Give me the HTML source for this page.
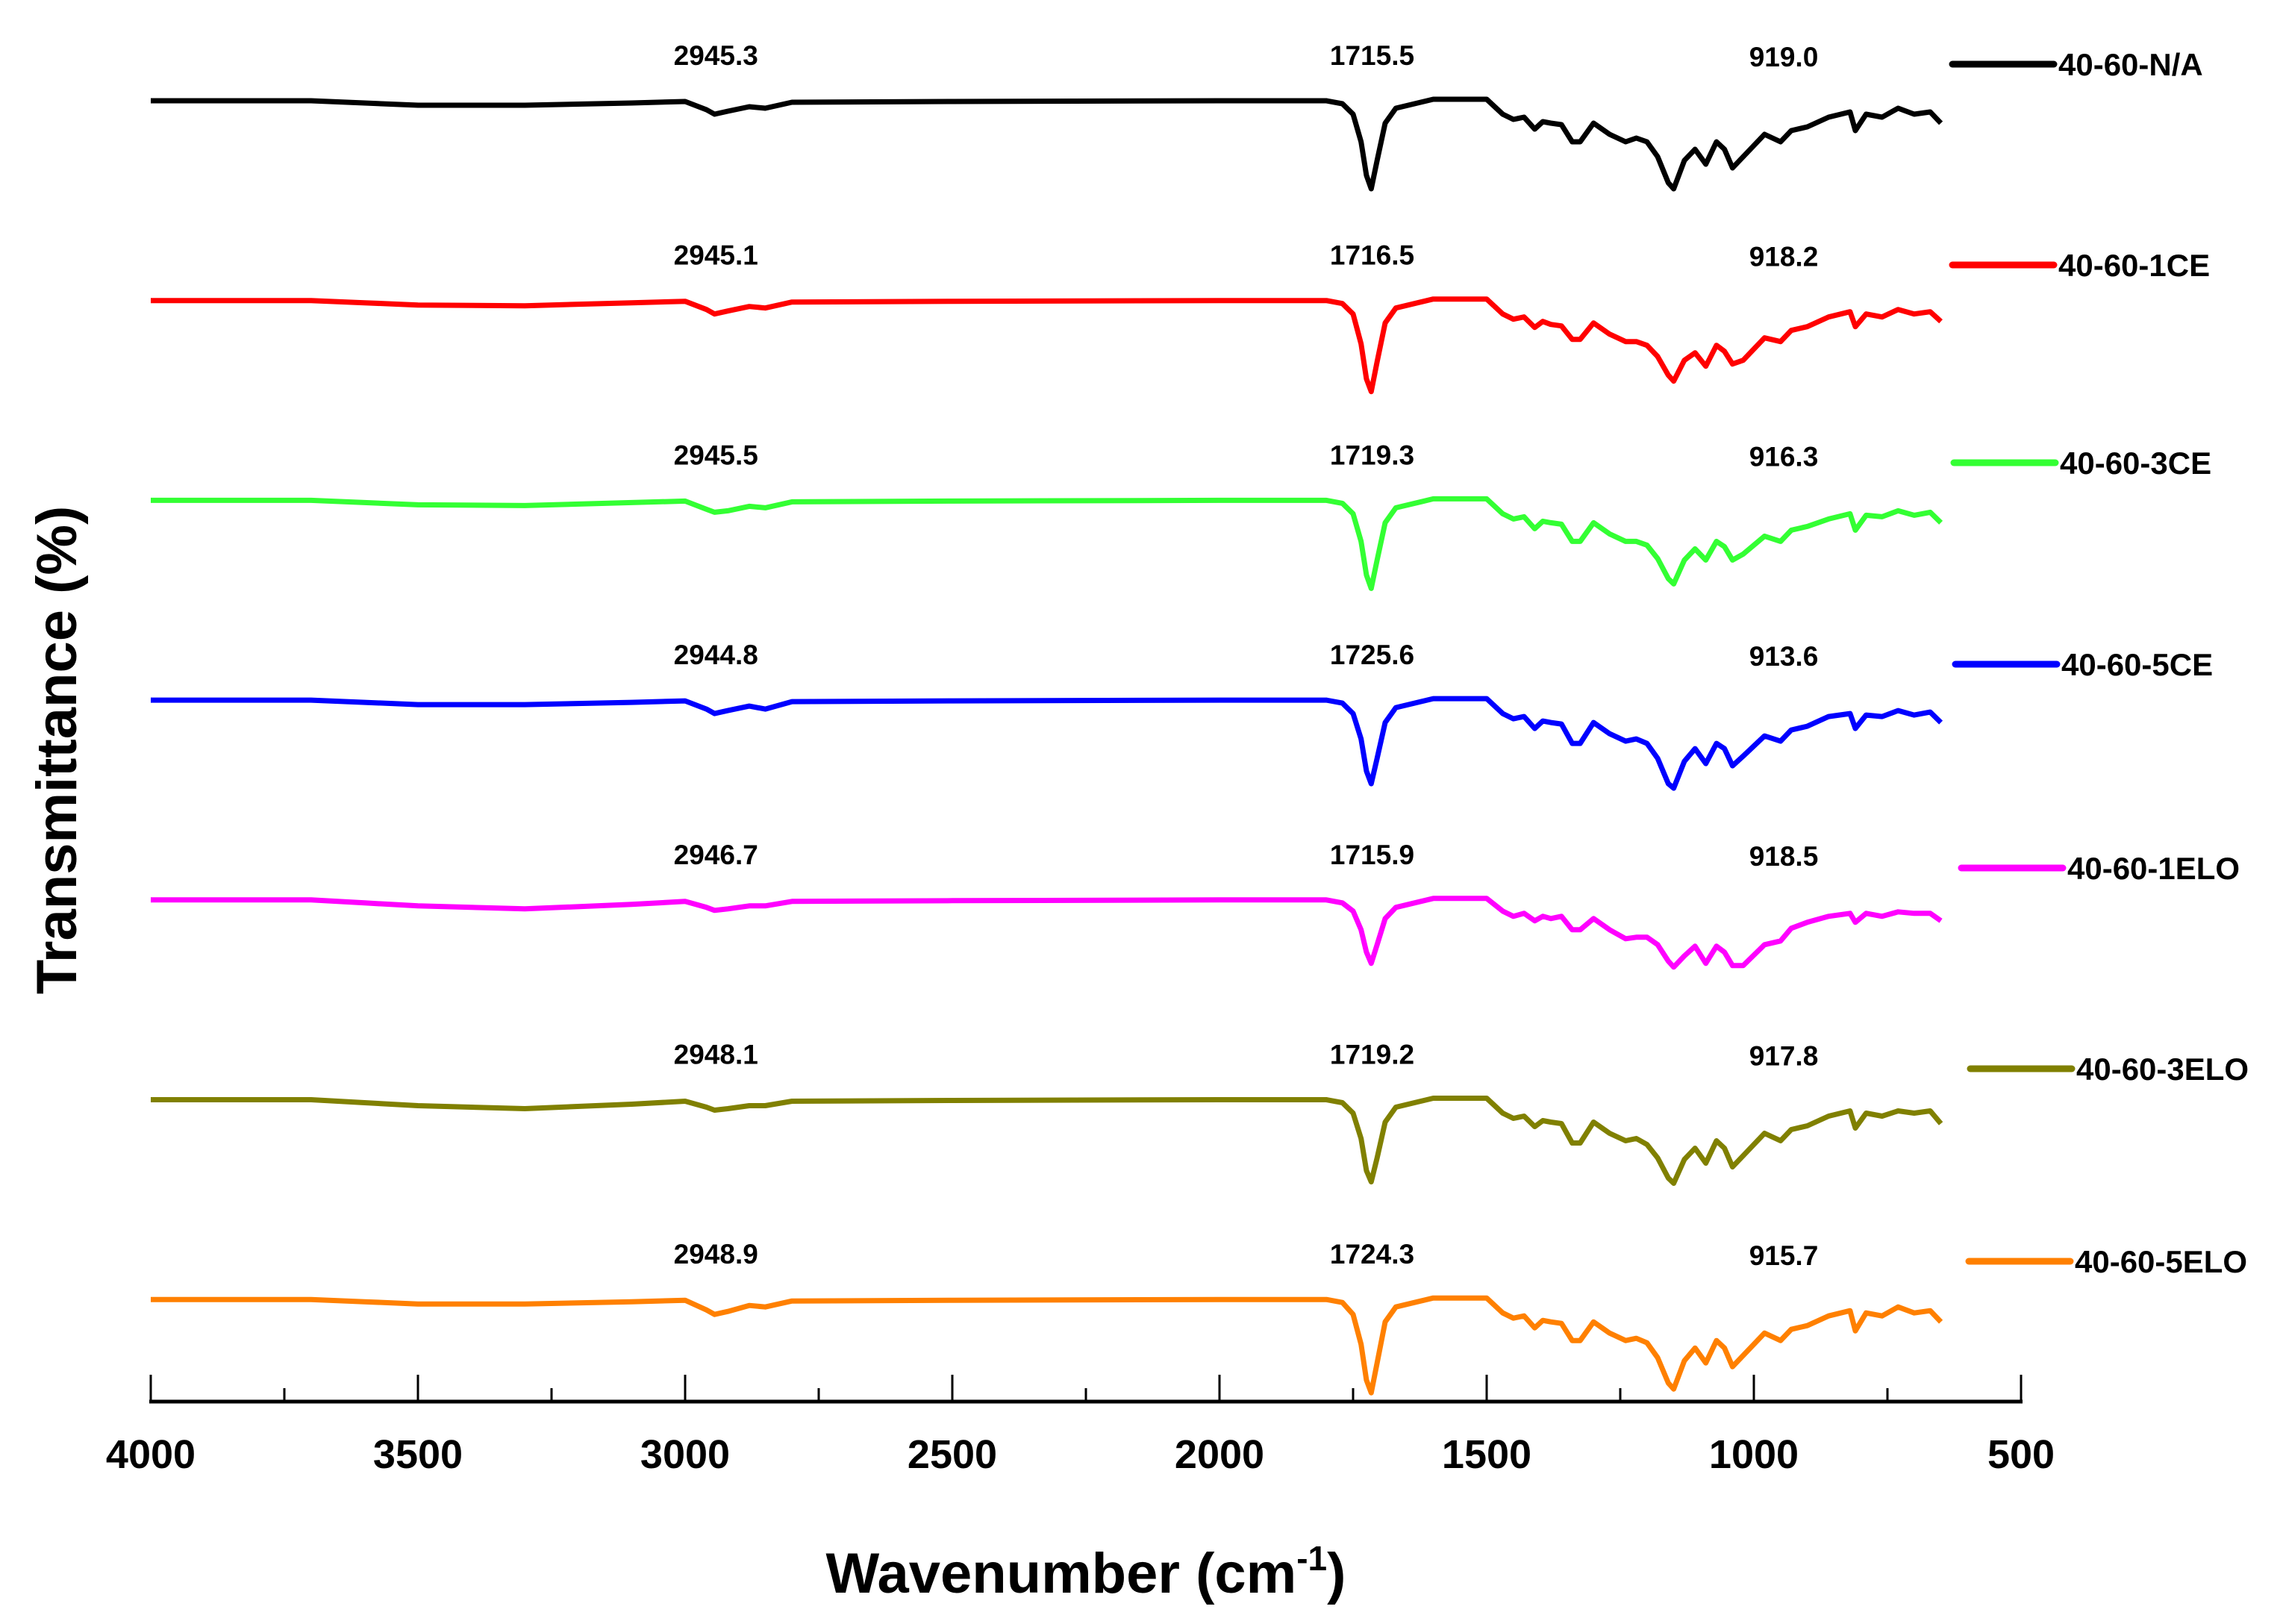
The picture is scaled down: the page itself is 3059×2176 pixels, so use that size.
<!DOCTYPE html>
<html><head><meta charset="utf-8"><style>
html,body{margin:0;padding:0;background:#fff}
svg{display:block}
text{font-family:"Liberation Sans",sans-serif;font-weight:bold}
</style></head><body>
<svg id="chart" width="3059" height="2176" viewBox="0 0 3059 2176" xmlns="http://www.w3.org/2000/svg">
<g id="series-layer"></g>
<g id="label-layer"></g>
<g id="legend-layer"></g>
<g id="axis-layer"></g>
<text x="0" y="0" transform="translate(102,1005) rotate(-90)" text-anchor="middle" font-size="76">Transmittance (%)</text>
<text x="1455" y="2134" text-anchor="middle" font-size="76">Wavenumber (cm<tspan dy="-30" font-size="46">-1</tspan><tspan dy="30">)</tspan></text>
</svg>
<script>
const waves=[4000,3700,3600,3500,3300,3100,3000,2960,2945,2920,2880,2850,2800,2500,2000,1800,1770,1750,1735,1725,1716,1705,1690,1670,1600,1500,1470,1450,1430,1410,1395,1380,1360,1340,1325,1300,1270,1240,1220,1200,1180,1160,1150,1130,1110,1090,1070,1055,1040,1020,980,950,930,900,860,820,810,790,760,730,700,670,650];
const seriesNames=["40-60-N/A","40-60-1CE","40-60-3CE","40-60-5CE","40-60-1ELO","40-60-3ELO","40-60-5ELO"];
const seriesColors=["#000000","#ff0000","#33ff33","#0000ff","#ff00ff","#808000","#ff8000"];
const dropNA  =[0,0,3,6,6,3,1,12,18,14,8,10,2,1,0,0,4,18,55,100,118,80,30,10,-2,-2,18,25,22,38,28,30,32,55,55,30,45,55,50,55,75,110,118,80,65,85,55,65,90,75,45,55,40,35,22,15,40,18,22,10,18,15,30];
const drop1CE =[0,0,3,6,7,3,1,12,18,14,8,10,2,1,0,0,4,18,58,105,122,82,30,10,-2,-2,18,25,22,36,28,32,34,52,52,30,45,55,55,60,75,100,108,80,70,88,60,68,85,80,50,55,40,35,22,15,35,18,22,12,18,15,28];
const drop3CE =[0,0,3,6,7,3,1,12,16,14,8,10,2,1,0,0,4,18,55,100,118,80,30,10,-2,-2,18,25,22,38,28,30,32,55,55,30,45,55,55,60,78,105,112,80,65,80,55,62,80,72,48,55,40,35,25,18,40,20,22,14,20,16,30];
const drop5CE =[0,0,3,6,6,3,1,12,18,14,8,12,2,1,0,0,4,18,52,95,112,78,30,10,-2,-2,18,25,22,38,28,30,32,58,58,30,45,55,52,58,78,112,118,82,65,85,58,65,88,75,48,55,40,35,22,18,38,20,22,14,20,16,30];
const drop1ELO=[0,0,4,8,12,6,2,10,14,12,8,8,2,1,0,0,4,15,40,70,85,60,25,10,-2,-2,15,22,18,28,22,25,22,40,40,25,40,52,50,50,60,82,90,75,62,85,62,70,88,88,60,55,38,30,22,18,30,18,22,16,18,18,28];
const drop3ELO=[0,0,4,8,12,6,2,10,14,12,8,8,2,1,0,0,4,18,52,95,110,78,30,10,-2,-2,18,25,22,36,28,30,32,58,58,30,45,55,52,60,78,105,112,80,65,85,55,65,90,75,45,55,40,35,22,15,38,18,22,15,18,15,32];
const drop5ELO=[0,0,3,6,6,3,1,14,20,16,8,10,2,1,0,0,4,20,60,108,125,85,30,10,-2,-2,18,25,22,38,28,30,32,55,55,30,45,55,52,58,78,112,120,82,65,85,55,65,90,75,45,55,40,35,22,15,42,18,22,10,18,15,30];
const seriesDrops=[dropNA,drop1CE,drop3CE,drop5CE,drop1ELO,drop3ELO,drop5ELO];
const peakCH=["2945.3","2945.1","2945.5","2944.8","2946.7","2948.1","2948.9"];
const peakCO=["1715.5","1716.5","1719.3","1725.6","1715.9","1719.2","1724.3"];
const peakFP=["919.0","918.2","916.3","913.6","918.5","917.8","915.7"];
const xTicks=[4000,3500,3000,2500,2000,1500,1000,500];

const NS="http://www.w3.org/2000/svg";
const X0=202,X1=2708,W0=4000,W1=500;
function xs(w){return X0+(W0-w)*(X1-X0)/(W0-W1);}
const base0=135,baseStep=267.7;
function ys(i,d){return base0+i*baseStep+d;}
const sl=document.getElementById('series-layer');
const ll=document.getElementById('label-layer');
const lg=document.getElementById('legend-layer');
const ax=document.getElementById('axis-layer');
function mk(tag,attrs,parent){const e=document.createElementNS(NS,tag);for(const k in attrs)e.setAttribute(k,attrs[k]);parent.appendChild(e);return e;}
const legendY=[86,355,620,890,1163,1432,1690];
const legendX=[2616,2616,2618,2620,2628,2640,2638];
seriesDrops.forEach((arr,i)=>{
  let d='';
  arr.forEach((v,j)=>{d+=(j?'L':'M')+xs(waves[j]).toFixed(1)+' '+ys(i,v).toFixed(1);});
  const p=mk('path',{d:d,fill:'none',stroke:seriesColors[i],'stroke-width':7,'stroke-linejoin':'round'},sl);
  
  
  const by=ys(i,0)-48;
  [[2948,peakCH[i]],[1720,peakCO[i]],[919,peakFP[i]]].forEach((pk,k)=>{
    const t=mk('text',{x:xs(pk[0])+(k==2?-18:4),y:by+(k==2?2:0),'text-anchor':'middle','font-size':37},ll);
    t.textContent=pk[1];
    
    
  });
  const ly=legendY[i],lx=legendX[i];
  const ln=mk('line',{x1:lx,y1:ly,x2:lx+136,y2:ly,stroke:seriesColors[i],'stroke-width':9,'stroke-linecap':'round'},lg);
  
  
  const lt=mk('text',{x:lx+142,y:ly+15,'font-size':42},lg);
  lt.textContent=seriesNames[i];
  
  
});
const axisY=1878;
const al=mk('line',{x1:X0-2,y1:axisY,x2:X1+2,y2:axisY,stroke:'#000','stroke-width':5},ax);


xTicks.forEach((w,i)=>{
  const tk=mk('line',{x1:xs(w),y1:axisY,x2:xs(w),y2:axisY-36,stroke:'#000','stroke-width':3},ax);
  
  
  if(i<xTicks.length-1){
    const mt=mk('line',{x1:xs(w-250),y1:axisY,x2:xs(w-250),y2:axisY-18,stroke:'#000','stroke-width':3},ax);
    
    
  }
  const t=mk('text',{x:xs(w),y:1967,'text-anchor':'middle','font-size':54},ax);
  t.textContent=w;
  
  
});
</script>
</body></html>
